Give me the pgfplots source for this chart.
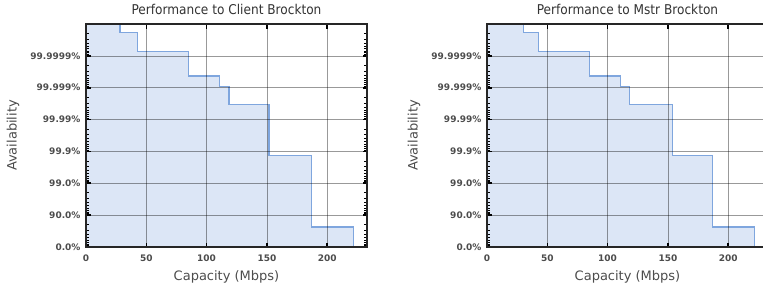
\documentclass[border=0pt]{standalone}
\usepackage{pgfplots}
\pgfplotsset{compat=1.18}
\usepackage{fontspec}
\setmainfont{DejaVu Sans}
\newfontfamily\condfont{DejaVu Sans Condensed}
\definecolor{areafill}{HTML}{DCE6F6}
\definecolor{arealine}{HTML}{7FA6DE}
\pgfplotsset{
  myax/.style={
    width=281pt, height=223pt, scale only axis,
    xmin=0, xmax=233, ymin=0, ymax=7,
    xtick={0,50,100,150,200},
    xticklabels={0,50,100,150,200},
    ytick={0,1,2,3,4,5,6},
    yticklabels={0.0\%,90.0\%,99.0\%,99.9\%,99.99\%,99.999\%,99.9999\%},
    minor ytick={0.0458,0.0969,0.1549,0.2218,0.3010,0.3979,0.5229,0.6990,
                 1.0458,1.0969,1.1549,1.2218,1.3010,1.3979,1.5229,1.6990,
                 2.0458,2.0969,2.1549,2.2218,2.3010,2.3979,2.5229,2.6990,
                 3.0458,3.0969,3.1549,3.2218,3.3010,3.3979,3.5229,3.6990,
                 4.0458,4.0969,4.1549,4.2218,4.3010,4.3979,4.5229,4.6990,
                 5.0458,5.0969,5.1549,5.2218,5.3010,5.3979,5.5229,5.6990,
                 6.0458,6.0969,6.1549,6.2218,6.3010,6.3979,6.5229,6.6990},
    /pgf/number format/assume math mode=true,
    grid=major,
    major grid style={black, opacity=0.4, line width=0.6pt},
    axis on top,
    tick align=inside,
    major tick length=4.5pt, minor tick length=3pt,
    every major tick/.append style={line width=1.6pt, black},
    every minor tick/.append style={line width=0.8pt, black},
    axis line style={black!85, line width=1.3pt},
    tick label style={font=\bfseries\fontsize{9}{10}\selectfont, text=black!70},
    yticklabel style={xshift=-2pt},
    xticklabel style={yshift=-4pt},
    title style={at={(axis description cs:0.5,1.04)}, anchor=center, font=\condfont\fontsize{13.5}{14}\selectfont, text=black!80},
    every axis y label/.style={at={(axis description cs:-0.26,0.5)}, rotate=90, anchor=center, font=\fontsize{13}{14}\selectfont, text=black!70},
    every axis x label/.style={at={(axis description cs:0.5,-0.1345)}, anchor=center, font=\fontsize{13}{14}\selectfont, text=black!70},
    xlabel={Capacity (Mbps)},
    ylabel={Availability},
  }
}
\begin{document}
\begin{tikzpicture}[x=1pt,y=1pt]
\useasboundingbox (0,0) rectangle (763,287);
\begin{axis}[myax, at={(86pt,40pt)}, anchor=south west, title={Performance to Client Brockton}]
\addplot [const plot mark left, fill=areafill, draw=none] coordinates {
 (0,7) (28.2,6.74) (42.7,6.13) (85,5.37) (110.8,5.04) (118.6,4.48) (151.8,2.86) (187,0.63) (221.6,0)
} \closedcycle;
\addplot [const plot mark left, draw=arealine, line width=1.2pt] coordinates {
 (0,7) (28.2,6.74) (42.7,6.13) (85,5.37) (110.8,5.04) (118.6,4.48) (151.8,2.86) (187,0.63) (221.6,0)
};
\end{axis}
\begin{axis}[myax, at={(487pt,40pt)}, anchor=south west, title={Performance to Mstr Brockton}]
\addplot [const plot mark left, fill=areafill, draw=none] coordinates {
 (0,7) (30,6.74) (42.4,6.13) (84.9,5.37) (110.4,5.04) (118.2,4.48) (153.7,2.86) (187.2,0.63) (221.9,0)
} \closedcycle;
\addplot [const plot mark left, draw=arealine, line width=1.2pt] coordinates {
 (0,7) (30,6.74) (42.4,6.13) (84.9,5.37) (110.4,5.04) (118.2,4.48) (153.7,2.86) (187.2,0.63) (221.9,0)
};
\end{axis}
\end{tikzpicture}
\end{document}
